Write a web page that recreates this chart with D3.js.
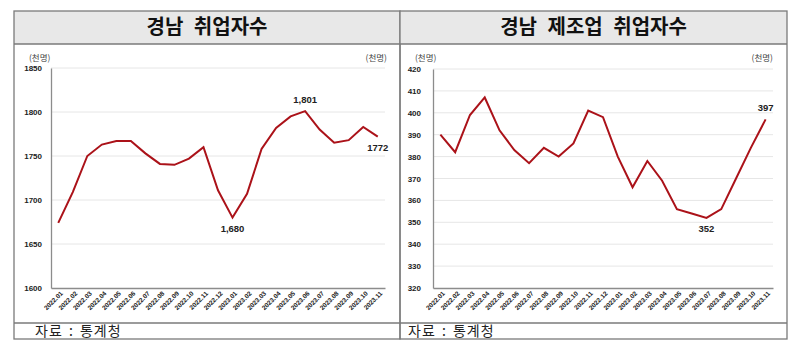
<!DOCTYPE html>
<html>
<head>
<meta charset="utf-8">
<script src="https://cdn.jsdelivr.net/npm/d3@7"></script>
<style>
  body { margin: 0; background: #fff; }
  svg text { font-family: "Noto Sans CJK KR", "Noto Sans", sans-serif; }
</style>
</head>
<body>
<div id="container"></div>
<script>
/* DATA */
const months = ["2022.01","2022.02","2022.03","2022.04","2022.05","2022.06","2022.07","2022.08",
  "2022.09","2022.10","2022.11","2022.12","2023.01","2023.02","2023.03","2023.04","2023.05",
  "2023.06","2023.07","2023.08","2023.09","2023.10","2023.11"];

// 경남 취업자수 (천명)
const totalEmp = [1674, 1709, 1750, 1763, 1767, 1767, 1753, 1741, 1740, 1747, 1760, 1711,
  1680, 1707, 1758, 1782, 1795, 1801, 1780, 1765, 1768, 1783, 1772];
const totalTicks = [1600, 1650, 1700, 1750, 1800, 1850];

// 경남 제조업 취업자수 (천명)
const mfgEmp = [390, 382, 399, 407, 392, 383, 377, 384, 380, 386, 401, 398,
  380, 366, 378, 369, 356, 354, 352, 356, 370, 384, 397];
const mfgTicks = [320, 330, 340, 350, 360, 370, 380, 390, 400, 410, 420];

const width = 800, height = 352;
const lineColor = "#ab1219";

const svg = d3.select("#container").append("svg")
  .attr("width", width)
  .attr("height", height);

function drawPanel(opt) {
  const g = svg.append("g");

  // panel frame
  g.append("rect")
    .attr("x", opt.x0).attr("y", 11)
    .attr("width", opt.x1 - opt.x0).attr("height", 33)
    .attr("fill", "#e8e8e8");
  g.append("rect")
    .attr("x", opt.x0).attr("y", 11)
    .attr("width", opt.x1 - opt.x0).attr("height", 328)
    .attr("fill", "none").attr("stroke", "#7a7a7a").attr("stroke-width", 1.3);
  g.append("line")
    .attr("x1", opt.x0).attr("x2", opt.x1).attr("y1", 44).attr("y2", 44)
    .attr("stroke", "#7a7a7a").attr("stroke-width", 1.3);
  g.append("line")
    .attr("x1", opt.x0).attr("x2", opt.x1).attr("y1", 323).attr("y2", 323)
    .attr("stroke", "#7a7a7a").attr("stroke-width", 1.3);

  g.append("text")
    .attr("x", (opt.x0 + opt.x1) / 2).attr("y", 34)
    .attr("text-anchor", "middle")
    .attr("font-size", 20).attr("font-weight", "bold")
    .attr("fill", "#111")
    .style("word-spacing", "6px")
    .text(opt.title);

  g.append("text")
    .attr("x", opt.srcX).attr("y", 336)
    .attr("font-size", 14).attr("fill", "#222")
    .style("letter-spacing", "1px")
    .style("word-spacing", "2px")
    .text("자료 : 통계청");

  // units
  g.append("text")
    .attr("x", opt.unitL).attr("y", 61)
    .attr("font-size", 8.5).attr("fill", "#444")
    .text("(천명)");
  g.append("text")
    .attr("x", opt.unitR).attr("y", 61)
    .attr("font-size", 8.5).attr("fill", "#444")
    .attr("text-anchor", "end")
    .text("(천명)");

  // scales
  const xScale = d3.scaleBand()
    .domain(months)
    .range([opt.left, opt.right]);

  const yScale = d3.scaleLinear()
    .domain(d3.extent(opt.ticks))
    .range([288, opt.top]);

  // gridlines
  g.selectAll(".grid")
    .data(opt.ticks.slice(1))
    .join("line")
    .attr("x1", opt.left).attr("x2", opt.right)
    .attr("y1", d => yScale(d)).attr("y2", d => yScale(d))
    .attr("stroke", "#e6e6e6").attr("stroke-width", 1);

  // y axis
  const yAxis = d3.axisLeft(yScale)
    .tickValues(opt.ticks)
    .tickFormat(d3.format("d"))
    .tickSize(0).tickPadding(opt.tickPad);
  const yAxisGroup = g.append("g")
    .attr("transform", `translate(${opt.left}, 0)`)
    .call(yAxis);
  yAxisGroup.select(".domain").attr("stroke", "#8c8c8c").attr("stroke-width", 1.3);
  yAxisGroup.selectAll("text")
    .attr("font-size", 8).attr("font-weight", "bold").attr("fill", "#222")
    .style("font-family", "'Liberation Sans', Arial, sans-serif");

  // x axis
  const xAxis = d3.axisBottom(xScale).tickSize(0);
  const xAxisGroup = g.append("g")
    .attr("transform", `translate(0, 288)`)
    .call(xAxis);
  xAxisGroup.select(".domain").attr("stroke", "#8c8c8c").attr("stroke-width", 1.3);
  xAxisGroup.selectAll("text")
    .attr("x", 0).attr("y", 0).attr("dy", 0)
    .attr("font-size", 6.5).attr("font-weight", "bold").attr("fill", "#222")
    .style("font-family", "'Liberation Sans', Arial, sans-serif")
    .attr("text-anchor", "end")
    .attr("transform", "translate(5, 6) rotate(-45)");

  const lineGen = d3.line()
    .x((d, i) => xScale(months[i]) + xScale.bandwidth() / 2)
    .y(d => yScale(d));

  g.append("path")
    .datum(opt.values)
    .attr("d", lineGen)
    .attr("fill", "none")
    .attr("stroke", lineColor)
    .attr("stroke-width", 2)
    .attr("stroke-linejoin", "miter");

  // data labels
  g.selectAll(".dlabel")
    .data(opt.labels)
    .join("text")
    .attr("x", d => xScale(months[d.i]) + xScale.bandwidth() / 2 + d.dx)
    .attr("y", d => yScale(opt.values[d.i]) + d.dy)
    .attr("text-anchor", "middle")
    .attr("font-size", 9.5).attr("font-weight", "bold").attr("fill", "#222")
    .style("font-family", "'Liberation Sans', Arial, sans-serif")
    .text(d => d.text);
}

drawPanel({
  x0: 14, x1: 400, left: 51, right: 385, top: 68,
  title: "경남 취업자수", srcX: 35, unitL: 29, unitR: 387, tickPad: 9,
  ticks: totalTicks, values: totalEmp,
  labels: [
    {i: 17, text: "1,801", dx: 0, dy: -8},
    {i: 12, text: "1,680", dx: 0, dy: 14},
    {i: 22, text: "1772", dx: 0, dy: 14}
  ]
});

drawPanel({
  x0: 400, x1: 787, left: 433, right: 773, top: 69,
  title: "경남 제조업 취업자수", srcX: 408, unitL: 415, unitR: 773, tickPad: 12,
  ticks: mfgTicks, values: mfgEmp,
  labels: [
    {i: 22, text: "397", dx: 0, dy: -8},
    {i: 18, text: "352", dx: 0, dy: 14}
  ]
});
</script>
</body>
</html>
